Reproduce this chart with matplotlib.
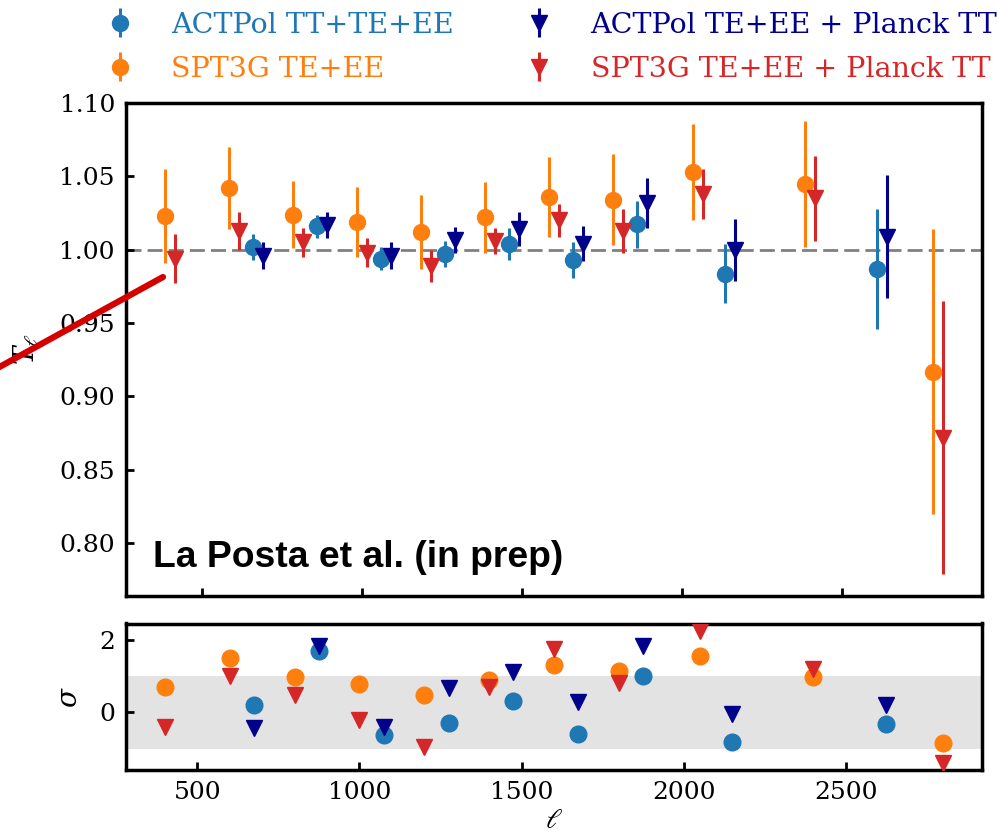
import matplotlib
matplotlib.use("Agg")
import matplotlib.pyplot as plt
import numpy as np

# ---- data -----------------------------------------------------------------
spt_ell = [400, 600, 800, 1000, 1200, 1400, 1600, 1800, 2050, 2400, 2800]
act_ell = [675, 875, 1075, 1275, 1475, 1675, 1875, 2150, 2625]

spt_te_ee = [1.023, 1.042, 1.024, 1.019, 1.012, 1.022, 1.036, 1.034, 1.053, 1.045, 0.917]
spt_te_ee_err = [0.032, 0.028, 0.023, 0.024, 0.025, 0.024, 0.027, 0.031, 0.033, 0.043, 0.097]
spt_planck = [0.994, 1.013, 1.005, 0.998, 0.989, 1.006, 1.020, 1.013, 1.038, 1.035, 0.872]
spt_planck_err = [0.017, 0.013, 0.010, 0.010, 0.011, 0.009, 0.011, 0.015, 0.017, 0.029, 0.093]

act_tt_te_ee = [1.002, 1.016, 0.994, 0.997, 1.004, 0.993, 1.0175, 0.9836, 0.987]
act_tt_te_ee_err = [0.009, 0.008, 0.008, 0.009, 0.011, 0.012, 0.016, 0.020, 0.041]
act_planck = [0.996, 1.017, 0.996, 1.0065, 1.014, 1.004, 1.032, 1.000, 1.009]
act_planck_err = [0.009, 0.009, 0.009, 0.009, 0.0115, 0.012, 0.017, 0.021, 0.042]

# significance of the deviation from unity, per bin
sig_spt_te_ee = [0.685, 1.48, 0.96, 0.77, 0.47, 0.90, 1.31, 1.13, 1.54, 0.98, -0.85]
sig_spt_planck = [-0.39, 1.00, 0.47, -0.20, -0.94, 0.69, 1.73, 0.82, 2.24, 1.19, -1.38]
sig_act_tt_te_ee = [0.20, 1.69, -0.62, -0.28, 0.31, -0.58, 0.99, -0.81, -0.33]
sig_act_planck = [-0.44, 1.82, -0.39, 0.67, 1.10, 0.29, 1.82, -0.03, 0.20]

labels = ["ACTPol TT+TE+EE", "SPT3G TE+EE",
          "ACTPol TE+EE + Planck TT", "SPT3G TE+EE + Planck TT"]
colors = ["#1f77b4", "#ff7f0e", "#00008b", "#d62728"]

# ---- style ----------------------------------------------------------------
plt.rcParams["font.family"] = ["DejaVu Serif"]
plt.rcParams["mathtext.fontset"] = "dejavuserif"
FS = 18
LEG_FS = 20.5

W, H = 997, 836
fig = plt.figure(figsize=(W / 100, H / 100), dpi=100)

def px_axes(left, top, right, bottom):
    return fig.add_axes([left / W, 1 - bottom / H, (right - left) / W, (bottom - top) / H])

ax = px_axes(126, 103, 982, 596)
axs = px_axes(126, 623.5, 982, 770)

dodge = 15
series = [
    (np.array(act_ell) - dodge, act_tt_te_ee, act_tt_te_ee_err, "o", colors[0]),
    (np.array(spt_ell) - dodge, spt_te_ee, spt_te_ee_err, "o", colors[1]),
    (np.array(act_ell) + dodge, act_planck, act_planck_err, "v", colors[2]),
    (np.array(spt_ell) + dodge, spt_planck, spt_planck_err, "v", colors[3]),
]
handles = []
for (x, y, e, m, c), lab in zip(series, labels):
    h = ax.errorbar(x, y, yerr=e, fmt=m, color=c, ms=11.5, elinewidth=2.2,
                    capsize=0, label=lab, zorder=3)
    handles.append(h)

ax.axhline(1.0, color="gray", ls=(0, (5.4, 2.2)), lw=2, zorder=1)
ax.set_ylim(0.764, 1.10)
ax.set_yticks(np.arange(0.80, 1.101, 0.05))
ax.yaxis.set_major_formatter(matplotlib.ticker.FormatStrFormatter("%.2f"))
ax.set_xticks([500, 1000, 1500, 2000, 2500])
ax.tick_params(labelbottom=False)
ax.set_ylabel(r"$T_\ell$", fontsize=FS + 2)
ax.yaxis.set_label_coords(-0.099, 0.5)

ax.text(0.0315, 0.0588, "La Posta et al. (in prep)", transform=ax.transAxes,
        family="Liberation Sans", fontweight="bold", fontsize=26.8,
        va="baseline", ha="left")

# lower panel: significance
axs.axhspan(-1, 1, color="#e3e3e3", zorder=0, lw=0)
sig_series = [
    (act_ell, sig_act_tt_te_ee, "o", colors[0]),
    (spt_ell, sig_spt_te_ee, "o", colors[1]),
    (act_ell, sig_act_planck, "v", colors[2]),
    (spt_ell, sig_spt_planck, "v", colors[3]),
]
for x, s, m, c in sig_series:
    axs.plot(x, s, m, color=c, ms=12, zorder=3)
axs.set_ylim(-1.58, 2.44)
axs.set_yticks([0, 2])
axs.set_xticks([500, 1000, 1500, 2000, 2500])
axs.set_ylabel(r"$\sigma$", fontsize=FS + 2)
axs.yaxis.set_label_coords(-0.050, 0.5)
axs.set_xlabel(r"$\ell$", fontsize=FS + 2, labelpad=2)

for a in (ax, axs):
    for sp in a.spines.values():
        sp.set_linewidth(2.5)
    a.tick_params(direction="in", length=6, width=2, labelsize=FS,
                  top=False, right=False, pad=8)

leg = ax.legend(handles=handles, labels=labels, ncol=2, frameon=False,
                fontsize=LEG_FS, loc="lower left",
                bbox_to_anchor=(80 / W, 1 - 94 / H), bbox_transform=fig.transFigure,
                columnspacing=2.0, handletextpad=0.8, labelspacing=0.6,
                borderaxespad=0)
for t, c in zip(leg.get_texts(), colors):
    t.set_color(c)

# red pointer line across the left margin
ax.annotate("", xy=(0.0432, 0.647), xycoords="axes fraction",
            xytext=(-0.1706, 0.4428), textcoords="axes fraction",
            arrowprops=dict(arrowstyle="-", lw=4.5, color="#d40000",
                            shrinkA=0, shrinkB=0),
            annotation_clip=False, zorder=10)

fig.savefig("out.png", dpi=100)
